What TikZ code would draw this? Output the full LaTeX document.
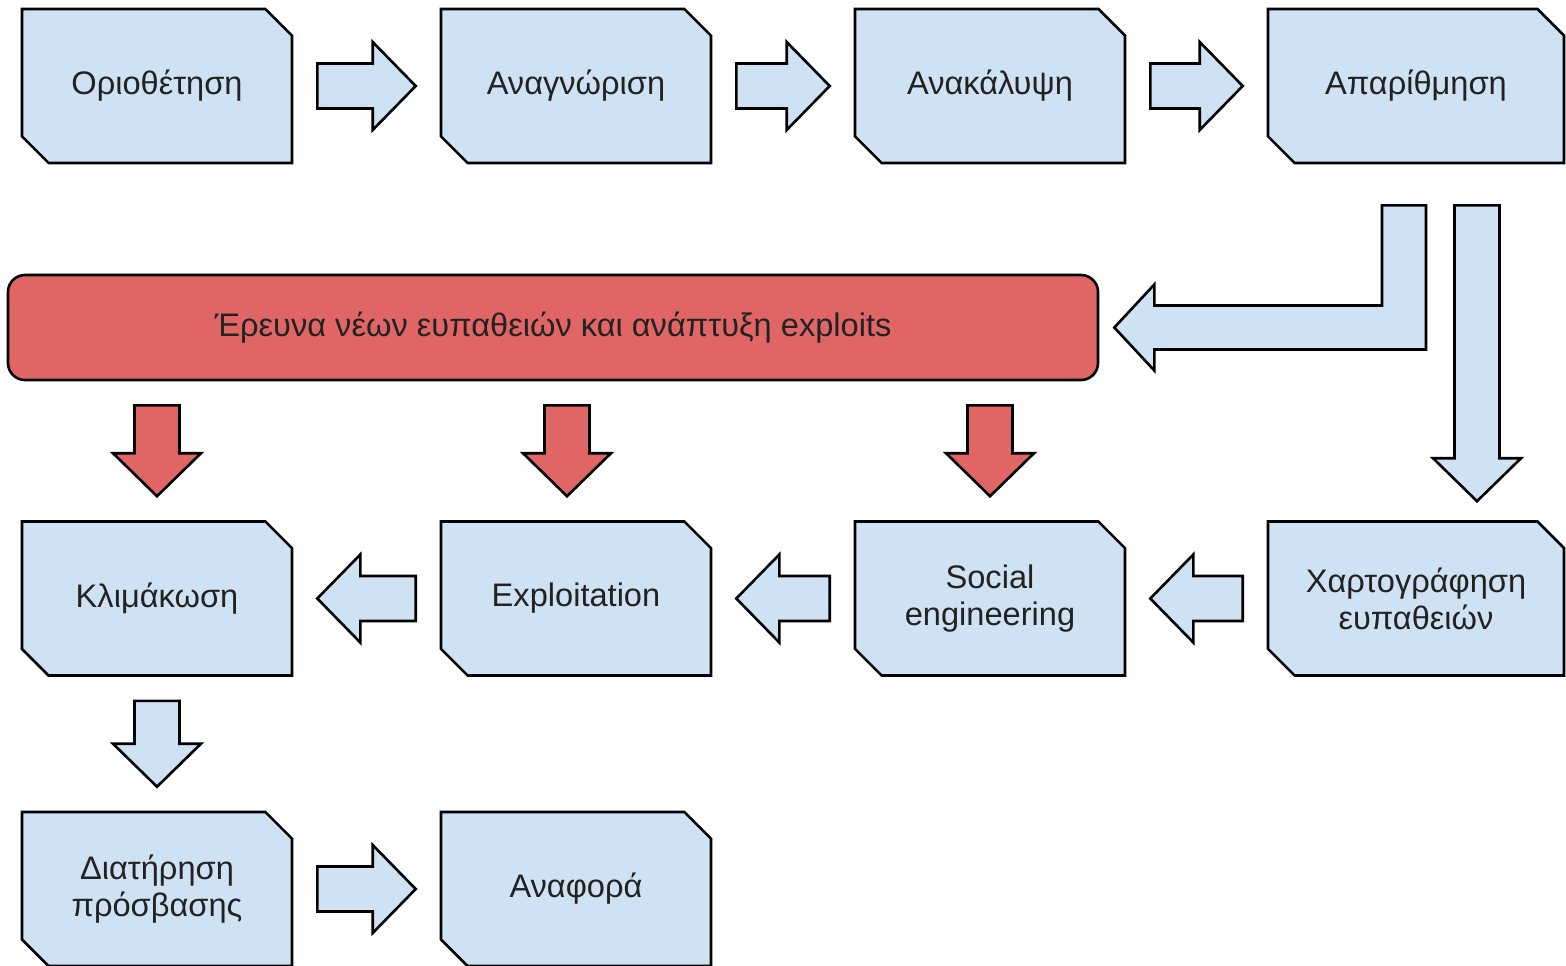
\documentclass[tikz,border=0pt]{standalone}
\usepackage{fontspec}
\setmainfont{Liberation Sans}
\usetikzlibrary{shapes.misc,calc}

\definecolor{stageblue}{HTML}{CFE2F3}
\definecolor{researchred}{HTML}{E06666}
\definecolor{labelgray}{HTML}{222222}

\tikzset{
  stage/.style={chamfered rectangle, chamfered rectangle corners={north east,south west},
    chamfered rectangle xsep=7.3pt, chamfered rectangle ysep=6pt,
    draw, line width=1.3pt, fill=stageblue, inner sep=0pt,
    minimum width=135pt, minimum height=77pt, align=center,
    font=\fontsize{16.3}{18.5}\selectfont, text=labelgray},
  widestage/.style={stage, minimum width=148pt},
  research/.style={rectangle, rounded corners=8.5pt, draw, line width=1.3pt,
    fill=researchred, minimum width=545pt, minimum height=52.5pt,
    font=\fontsize{16.3}{18.5}\selectfont, text=labelgray},
  bluearrow/.style={draw, line width=1.3pt, line join=miter, fill=stageblue},
  redarrow/.style={bluearrow, fill=researchred}
}

% block arrow from tail to tip
\newcommand{\blockarrow}[3][bluearrow]{%
  \coordinate (atail) at (#2);
  \coordinate (atip) at (#3);
  \coordinate (ahead) at ($(atip)!21.5pt!(atail)$);
  \draw[#1] ($(atail)!11.25pt!90:(atip)$) -- ($(ahead)!11.25pt!90:(atip)$)
    -- ($(ahead)!22pt!90:(atip)$) -- (atip) -- ($(ahead)!22pt!-90:(atip)$)
    -- ($(ahead)!11.25pt!-90:(atip)$) -- ($(atail)!11.25pt!-90:(atip)$) -- cycle;
}
% block arrow between two nodes
\newcommand{\linkarrow}[3][bluearrow]{%
  \blockarrow[#1]{$(#2)!12pt!(#3)$}{$(#3)!12pt!(#2)$}}

\begin{document}
\begin{tikzpicture}[x=0.5pt,y=-0.5pt]
  \useasboundingbox (0,0) rectangle (1566,965);

  \node[stage] (scope) at (157,86) {Οριοθέτηση};
  \node[stage] (recon) at (576,86) {Αναγνώριση};
  \node[stage] (discover) at (990,86) {Ανακάλυψη};
  \node[widestage] (enum) at (1416,86) {Απαρίθμηση};

  \node[research] (research) at (553,327.5) {Έρευνα νέων ευπαθειών και ανάπτυξη exploits};

  \node[stage] (escalate) at (157,598.5) {Κλιμάκωση};
  \node[stage] (exploit) at (576,598.5) {Exploitation};
  \node[stage] (social) at (990,598.5) {Social\\engineering};
  \node[widestage] (vulnmap) at (1416,598.5) {Χαρτογράφηση\\ευπαθειών};

  \node[stage] (persist) at (157,889) {Διατήρηση\\πρόσβασης};
  \node[stage] (report) at (576,889) {Αναφορά};

  \linkarrow{scope.east}{recon.west}
  \linkarrow{recon.east}{discover.west}
  \linkarrow{discover.east}{enum.west}

  \draw[bluearrow] ($(research.east)+(15,0)$) -- ++(40,-43) -- ++(0,21)
    -| ($(enum.south)+(-34,41)$) -- ++(44,0) |- ($(research.east)+(55,22)$)
    -- ++(0,21) -- cycle;
  \blockarrow{$(enum.south)+(61,41)$}{$(vulnmap.north)+(61,-19)$}

  \linkarrow[redarrow]{escalate.north |- research.south}{escalate.north}
  \coordinate (exploitin) at ($(exploit.north)+(-9,0)$);
  \linkarrow[redarrow]{exploitin |- research.south}{exploitin}
  \linkarrow[redarrow]{social.north |- research.south}{social.north}

  \linkarrow{vulnmap.west}{social.east}
  \linkarrow{social.west}{exploit.east}
  \linkarrow{exploit.west}{escalate.east}

  \linkarrow{escalate.south}{persist.north}
  \linkarrow{persist.east}{report.west}
\end{tikzpicture}
\end{document}
